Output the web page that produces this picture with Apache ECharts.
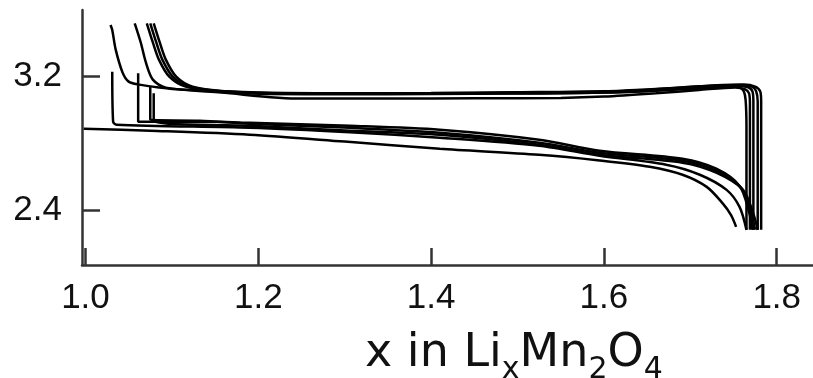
<!DOCTYPE html>
<html>
<head>
<meta charset="utf-8">
<script src="https://cdn.jsdelivr.net/npm/echarts@6/dist/echarts.min.js"></script>
<style>
html,body{margin:0;padding:0;background:#fff;}
#chart{width:813px;height:378px;}
</style>
</head>
<body>
<div id="chart"></div>
<script>
// Tick labels
var xTicks = [1.0, 1.2, 1.4, 1.6, 1.8];
var yTicks = [2.4, 3.2];

// Discharge curves (x, voltage)
var discharge1 = [[0.998,2.887],[1.075,2.875],[1.19,2.851],[1.30,2.81],[1.41,2.767],[1.525,2.731],[1.595,2.697],[1.653,2.659],[1.691,2.611],[1.719,2.538],[1.737,2.442],[1.747,2.37],[1.753,2.298]];
var discharge2 = [[1.031,3.23],[1.032,2.93],[1.036,2.911],[1.19,2.893],[1.306,2.866],[1.41,2.833],[1.525,2.785],[1.595,2.725],[1.672,2.671],[1.711,2.611],[1.742,2.52],[1.757,2.418],[1.765,2.28]];
var discharge3 = [[1.061,3.22],[1.061,2.929],[1.066,2.929],[1.152,2.929],[1.19,2.923],[1.306,2.905],[1.41,2.881],[1.525,2.821],[1.595,2.755],[1.691,2.707],[1.73,2.647],[1.757,2.544],[1.768,2.388],[1.772,2.28]];
var discharge4 = [[1.075,3.14],[1.075,2.941],[1.132,2.935],[1.19,2.917],[1.306,2.893],[1.41,2.863],[1.525,2.803],[1.595,2.743],[1.691,2.695],[1.73,2.635],[1.759,2.532],[1.77,2.388],[1.775,2.28]];
var discharge5 = [[1.079,3.10],[1.079,2.935],[1.19,2.905],[1.306,2.875],[1.41,2.851],[1.525,2.791],[1.595,2.731],[1.691,2.683],[1.73,2.623],[1.761,2.52],[1.773,2.376],[1.778,2.28]];

// Charge curves (x, voltage)
var charge1 = [[1.029,3.51],[1.031,3.48],[1.035,3.362],[1.043,3.224],[1.05,3.17],[1.062,3.152],[1.085,3.135],[1.11,3.122],[1.2,3.105],[1.3,3.10],[1.4,3.098],[1.5,3.098],[1.6,3.104],[1.66,3.115],[1.71,3.13],[1.748,3.14],[1.758,3.132],[1.762,3.11],[1.764,3.06],[1.765,2.9],[1.765,2.28]];
var charge2 = [[1.057,3.52],[1.064,3.405],[1.07,3.284],[1.078,3.182],[1.093,3.134],[1.157,3.104],[1.25,3.068],[1.35,3.068],[1.45,3.07],[1.55,3.072],[1.6,3.08],[1.66,3.1],[1.71,3.12],[1.752,3.135],[1.763,3.125],[1.768,3.1],[1.769,3.04],[1.769,2.9],[1.769,2.28]];
var charge3 = [[1.071,3.52],[1.078,3.405],[1.085,3.302],[1.097,3.2],[1.116,3.14],[1.154,3.11],[1.209,3.096],[1.3,3.094],[1.4,3.096],[1.5,3.1],[1.6,3.104],[1.66,3.118],[1.71,3.135],[1.755,3.145],[1.767,3.135],[1.772,3.11],[1.773,3.05],[1.773,2.9],[1.773,2.28]];
var charge4 = [[1.075,3.52],[1.082,3.405],[1.089,3.302],[1.101,3.2],[1.12,3.14],[1.158,3.112],[1.213,3.1],[1.3,3.098],[1.4,3.1],[1.5,3.104],[1.6,3.11],[1.66,3.124],[1.71,3.14],[1.758,3.15],[1.771,3.14],[1.776,3.115],[1.778,3.05],[1.778,2.9],[1.778,2.28]];
var charge5 = [[1.079,3.52],[1.086,3.405],[1.093,3.302],[1.105,3.2],[1.124,3.14],[1.162,3.112],[1.217,3.1],[1.3,3.1],[1.4,3.102],[1.5,3.106],[1.6,3.112],[1.66,3.126],[1.71,3.142],[1.762,3.152],[1.775,3.14],[1.781,3.11],[1.782,3.05],[1.782,2.9],[1.782,2.28]];

var curves = [discharge1, discharge2, discharge3, discharge4, discharge5, charge1, charge2, charge3, charge4, charge5];

var chart = echarts.init(document.getElementById('chart'), null, {renderer: 'canvas'});
var axisColor = '#333';
var labelFont = {fontFamily: 'Liberation Sans, Arial, sans-serif', fontSize: 35, color: '#111'};

var series = curves.map(function (c) {
  return {
    type: 'line',
    data: c,
    showSymbol: false,
    symbol: 'none',
    smooth: 0.3,
    lineStyle: {color: '#000', width: 2.5},
    silent: true,
    animation: false
  };
});

chart.setOption({
  animation: false,
  grid: {left: 82, right: 0, top: 10, bottom: 113, containLabel: false},
  xAxis: {
    type: 'value',
    min: 0.996,
    max: 1.842,
    axisLine: {show: true, lineStyle: {color: axisColor, width: 2.5}},
    axisTick: {show: true, inside: true, length: 17, customValues: xTicks, lineStyle: {color: axisColor, width: 2.5}},
    axisLabel: Object.assign({show: true, margin: 16, customValues: xTicks, formatter: function (v) { return v.toFixed(1); }}, labelFont),
    splitLine: {show: false}
  },
  yAxis: {
    type: 'value',
    min: 2.069,
    max: 3.6,
    axisLine: {show: true, lineStyle: {color: axisColor, width: 2.5}},
    axisTick: {show: true, inside: true, length: 18, customValues: yTicks, lineStyle: {color: axisColor, width: 2.5}},
    axisLabel: Object.assign({show: true, margin: 20, customValues: yTicks, formatter: function (v) { return v.toFixed(1); }}, labelFont),
    splitLine: {show: false}
  },
  graphic: [{
    type: 'text',
    x: 365,
    y: 323,
    silent: true,
    style: {
      text: '{m|x in Li}{s|x}{m|Mn}{s|2}{m|O}{s|4}',
      fill: '#111',
      rich: {
        m: {fontSize: 46, fontFamily: 'DejaVu Sans', fill: '#111'},
        s: {fontSize: 30, fontFamily: 'DejaVu Sans', fill: '#111', padding: [32, 0, 0, 0]}
      }
    }
  }],
  series: series
});
</script>
</body>
</html>
